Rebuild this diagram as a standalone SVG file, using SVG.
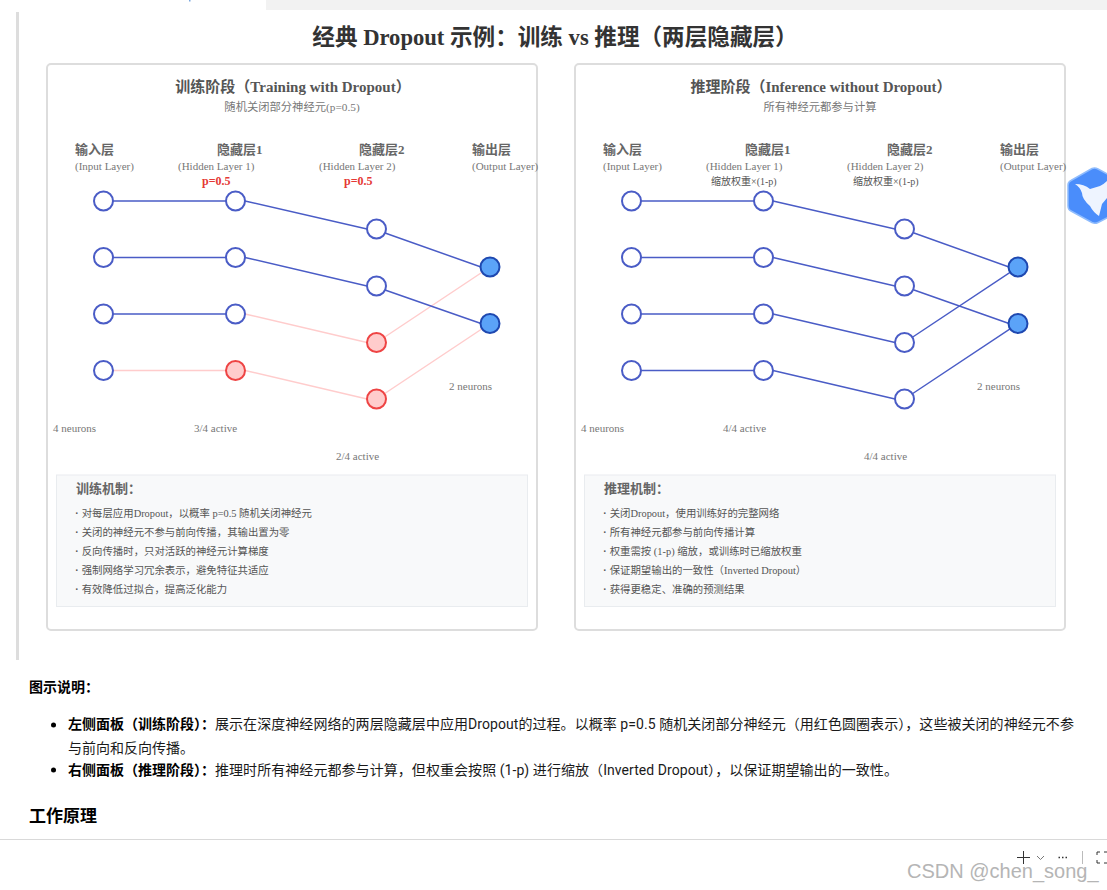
<svg xmlns="http://www.w3.org/2000/svg" width="1107" height="890" viewBox="0 0 1107 890">
<style>
text{font-family:"Liberation Serif","Noto Sans CJK SC",serif}
.panel{fill:#fff;stroke:#ddd;stroke-width:2}
.box{fill:#f8f9fa;stroke:#e9ecef;stroke-width:1}
.ptitle{font-size:15px;font-weight:bold;fill:#555;text-anchor:middle}
.psub{font-size:11.300px;fill:#777;text-anchor:middle}
.lname{font-size:13px;font-weight:bold;fill:#666}
.lsub{font-size:11px;fill:#777}
.count{font-size:11px;fill:#777}
.drop{font-size:12px;font-weight:bold;fill:#e53935}
.scale{font-size:10px;fill:#555}
.mhead{font-size:13px;font-weight:bold;fill:#666}
.mitem{font-size:10.400px;fill:#555}
.dot{font-weight:bold}
.n{fill:#fff;stroke:#4a5cc6;stroke-width:2}
.off{fill:#ffcccc;stroke:#ee4444;stroke-width:2}
.out{fill:#5ba3f8;stroke:#1e48b0;stroke-width:2}
.e{stroke:#4a5cc6;stroke-width:1.500;fill:none}
.p{stroke:#ffcccc;stroke-width:1.500;fill:none}
.doc{font-family:Roboto,"Noto Sans CJK SC",sans-serif;font-size:14px;fill:#1a1a1a}
.docb{font-family:Roboto,"Noto Sans CJK SC",sans-serif;font-weight:bold;fill:#000}
.body{letter-spacing:.06px}
.wm{font-family:"Liberation Sans",sans-serif;font-size:20px;fill:#b5b5b5}
</style>
<rect width="1107" height="890" fill="#fff"/>
<rect x="266" y="0" width="841" height="10" fill="#f2f2f2"/>
<rect x="189" y="0" width="1.500" height="1.500" fill="#7aa7e0"/>
<rect x="16" y="12" width="3" height="648" fill="#ddd"/>
<text x="555" y="45" font-size="22.600" font-weight="bold" fill="#333" text-anchor="middle">经典 Dropout 示例：训练 vs 推理（两层隐藏层）</text>

<g id="panel-train">
<rect class="panel" x="47" y="64" width="490" height="566" rx="4"/>
<text class="ptitle" x="293" y="92">训练阶段（Training with Dropout）</text>
<text class="psub" x="292" y="111">随机关闭部分神经元(p=0.5)</text>
</g>
<g id="panel-infer">
<rect class="panel" x="575" y="64" width="490" height="566" rx="4"/>
<text class="ptitle" x="821" y="92">推理阶段（Inference without Dropout）</text>
<text class="psub" x="820" y="111">所有神经元都参与计算</text>
</g>

<g id="layer-labels-train">
<text class="lname" x="75" y="154">输入层</text><text class="lsub" x="75" y="170">(Input Layer)</text>
<text class="lname" x="217" y="154">隐藏层1</text><text class="lsub" x="178" y="170">(Hidden Layer 1)</text>
<text class="drop" x="202" y="185">p=0.5</text>
<text class="lname" x="359" y="154">隐藏层2</text><text class="lsub" x="319" y="170">(Hidden Layer 2)</text>
<text class="drop" x="344" y="185">p=0.5</text>
<text class="lname" x="472" y="154">输出层</text><text class="lsub" x="472" y="170">(Output Layer)</text>
<text class="count" x="53" y="432">4 neurons</text>
<text class="count" x="194" y="432">3/4 active</text>
<text class="count" x="336" y="460">2/4 active</text>
<text class="count" x="449" y="390">2 neurons</text>
</g>
<g id="layer-labels-infer">
<text class="lname" x="603" y="154">输入层</text><text class="lsub" x="603" y="170">(Input Layer)</text>
<text class="lname" x="745" y="154">隐藏层1</text><text class="lsub" x="706" y="170">(Hidden Layer 1)</text>
<text class="scale" x="711" y="185">缩放权重×(1-p)</text>
<text class="lname" x="887" y="154">隐藏层2</text><text class="lsub" x="847" y="170">(Hidden Layer 2)</text>
<text class="scale" x="853" y="185">缩放权重×(1-p)</text>
<text class="lname" x="1000" y="154">输出层</text><text class="lsub" x="1000" y="170">(Output Layer)</text>
<text class="count" x="581" y="432">4 neurons</text>
<text class="count" x="723" y="432">4/4 active</text>
<text class="count" x="864" y="460">4/4 active</text>
<text class="count" x="977" y="390">2 neurons</text>
</g>

<g id="connectors">
<path class="p" d="M113 370.500H226M245 370.500L367 399M245 314L367 342.500M376.500 342.500L490 267M376.500 399L490 323.500"/>
<path class="e" d="M113 201H226M113 257.500H226M113 314H226M245 201L367 229M245 257.500L367 286M385 233L481 267M385 290L481 323.500"/>
<path class="e" d="M641 201H754M641 257.500H754M641 314H754M641 370.500H754M773 201L895 229M773 257.500L895 286M773 314L895 342.500M773 370.500L895 399M914 233L1009 267M914 290L1009 323.500M904.500 342.500L1018 267M904.500 399L1018 323.500"/>
</g>

<g id="t-in1"><circle class="n" cx="103.500" cy="201" r="9.500"/></g>
<g id="t-in2"><circle class="n" cx="103.500" cy="257.500" r="9.500"/></g>
<g id="t-in3"><circle class="n" cx="103.500" cy="314" r="9.500"/></g>
<g id="t-in4"><circle class="n" cx="103.500" cy="370.500" r="9.500"/></g>
<g id="t-h1a"><circle class="n" cx="235.500" cy="201" r="9.500"/></g>
<g id="t-h1b"><circle class="n" cx="235.500" cy="257.500" r="9.500"/></g>
<g id="t-h1c"><circle class="n" cx="235.500" cy="314" r="9.500"/></g>
<g id="t-h1d"><circle class="off" cx="235.500" cy="370.500" r="9.500"/></g>
<g id="t-h2a"><circle class="n" cx="376.500" cy="229" r="9.500"/></g>
<g id="t-h2b"><circle class="n" cx="376.500" cy="286" r="9.500"/></g>
<g id="t-h2c"><circle class="off" cx="376.500" cy="342.500" r="9.500"/></g>
<g id="t-h2d"><circle class="off" cx="376.500" cy="399" r="9.500"/></g>
<g id="t-o1"><circle class="out" cx="490" cy="267" r="9.500"/></g>
<g id="t-o2"><circle class="out" cx="490" cy="323.500" r="9.500"/></g>

<g id="i-in1"><circle class="n" cx="631.500" cy="201" r="9.500"/></g>
<g id="i-in2"><circle class="n" cx="631.500" cy="257.500" r="9.500"/></g>
<g id="i-in3"><circle class="n" cx="631.500" cy="314" r="9.500"/></g>
<g id="i-in4"><circle class="n" cx="631.500" cy="370.500" r="9.500"/></g>
<g id="i-h1a"><circle class="n" cx="763.500" cy="201" r="9.500"/></g>
<g id="i-h1b"><circle class="n" cx="763.500" cy="257.500" r="9.500"/></g>
<g id="i-h1c"><circle class="n" cx="763.500" cy="314" r="9.500"/></g>
<g id="i-h1d"><circle class="n" cx="763.500" cy="370.500" r="9.500"/></g>
<g id="i-h2a"><circle class="n" cx="904.500" cy="229" r="9.500"/></g>
<g id="i-h2b"><circle class="n" cx="904.500" cy="286" r="9.500"/></g>
<g id="i-h2c"><circle class="n" cx="904.500" cy="342.500" r="9.500"/></g>
<g id="i-h2d"><circle class="n" cx="904.500" cy="399" r="9.500"/></g>
<g id="i-o1"><circle class="out" cx="1018" cy="267" r="9.500"/></g>
<g id="i-o2"><circle class="out" cx="1018" cy="323.500" r="9.500"/></g>

<g id="mech-train">
<rect class="box" x="56.500" y="475" width="471" height="131.500"/>
<text class="mhead" x="76" y="493">训练机制：</text>
<text class="mitem" x="75" y="517"><tspan class="dot">·</tspan><tspan x="81.700">对每层应用Dropout，以概率 p=0.5 随机关闭神经元</tspan></text>
<text class="mitem" x="75" y="536"><tspan class="dot">·</tspan><tspan x="81.700">关闭的神经元不参与前向传播，其输出置为零</tspan></text>
<text class="mitem" x="75" y="555"><tspan class="dot">·</tspan><tspan x="81.700">反向传播时，只对活跃的神经元计算梯度</tspan></text>
<text class="mitem" x="75" y="574"><tspan class="dot">·</tspan><tspan x="81.700">强制网络学习冗余表示，避免特征共适应</tspan></text>
<text class="mitem" x="75" y="593"><tspan class="dot">·</tspan><tspan x="81.700">有效降低过拟合，提高泛化能力</tspan></text>
</g>
<g id="mech-infer">
<rect class="box" x="584.500" y="475" width="471" height="131.500"/>
<text class="mhead" x="604" y="493">推理机制：</text>
<text class="mitem" x="603" y="517"><tspan class="dot">·</tspan><tspan x="609.700">关闭Dropout，使用训练好的完整网络</tspan></text>
<text class="mitem" x="603" y="536"><tspan class="dot">·</tspan><tspan x="609.700">所有神经元都参与前向传播计算</tspan></text>
<text class="mitem" x="603" y="555"><tspan class="dot">·</tspan><tspan x="609.700">权重需按 (1-p) 缩放，或训练时已缩放权重</tspan></text>
<text class="mitem" x="603" y="574"><tspan class="dot">·</tspan><tspan x="609.700">保证期望输出的一致性（Inverted Dropout）</tspan></text>
<text class="mitem" x="603" y="593"><tspan class="dot">·</tspan><tspan x="609.700">获得更稳定、准确的预测结果</tspan></text>
</g>

<g id="icon">
<path d="M1092 168.500Q1095 167.500 1098 169L1120 181V211L1098 222.500Q1095 224 1092 222.500L1071 211Q1068 209.500 1068 206V185Q1068 182 1071 180.500Z" fill="#4a8dfb" stroke="#8fbcfd" stroke-width="1.500"/>
<path d="M1075 184Q1084 184 1090 189L1100 186Q1104 184 1107 181V198L1102 204L1099 216Q1093 212 1090 206Q1082 199 1082 193Q1080 187 1075 184Z" fill="#eef4ff"/>
</g>

<g id="doc">
<text class="docb" x="29" y="692" font-size="14">图示说明：</text>
<circle cx="53.500" cy="725" r="2.500" fill="#000"/>
<text class="doc" x="68" y="729"><tspan class="docb">左侧面板（训练阶段）：</tspan><tspan class="body" x="215">展示在深度神经网络的两层隐藏层中应用Dropout的过程。以概率 p=0.5 随机关闭部分神经元（用红色圆圈表示），这些被关闭的神经元不参</tspan></text>
<text class="doc" x="68" y="753">与前向和反向传播。</text>
<circle cx="53.500" cy="770" r="2.500" fill="#000"/>
<text class="doc" x="68" y="775"><tspan class="docb">右侧面板（推理阶段）：</tspan><tspan class="body" x="215">推理时所有神经元都参与计算，但权重会按照 (1-p) 进行缩放（Inverted Dropout），以保证期望输出的一致性。</tspan></text>
<text class="docb" x="29" y="822" font-size="17">工作原理</text>
</g>
<rect x="0" y="839" width="1107" height="1" fill="#d9d9d9"/>
<g id="toolbar" fill="none" stroke="#333" stroke-width="1">
<path d="M1017 857.500H1030M1023.500 851V864"/>
<path d="M1037 856L1040.500 859.500L1044 856" stroke="#777"/>
<path d="M1058.500 857.500h1.500M1062 857.500h1.500M1065.500 857.500h1.500" stroke-width="1.500"/>
<path d="M1082.500 851V864" stroke="#bbb"/>
<path d="M1097 855V852H1100M1097 860V863H1100M1104 852H1107M1104 863H1107"/>
</g>
<text class="wm" x="907" y="878">CSDN @chen_song_</text>
</svg>
